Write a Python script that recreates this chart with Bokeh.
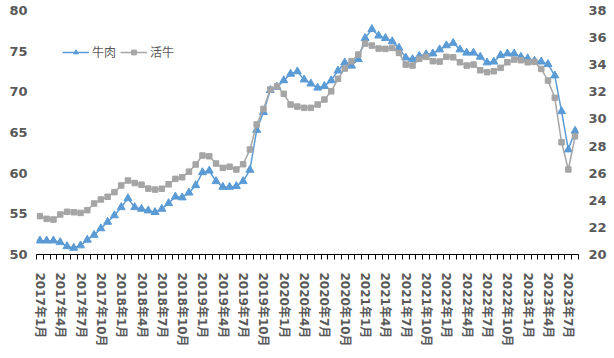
from bokeh.plotting import figure
from bokeh.models import Range1d, LinearAxis, FixedTicker, Legend, LegendItem, ColumnDataSource
from bokeh.embed import file_html
from bokeh.resources import INLINE

months = [f"{y}年{m}月" for y in range(2017, 2024) for m in range(1, 13)][:80]
tick_labels = months[::3]

beef = [51.7, 51.7, 51.7, 51.5, 51.0, 50.8, 51.1, 51.8, 52.4, 53.2,
        54.0, 54.8, 55.8, 56.9, 55.8, 55.6, 55.4, 55.2, 55.6, 56.3,
        57.1, 57.0, 57.6, 58.5, 60.1, 60.3, 59.0, 58.3, 58.3, 58.4,
        59.0, 60.4, 65.3, 67.5, 70.2, 70.6, 71.4, 72.2, 72.5, 71.5,
        71.0, 70.5, 70.7, 71.4, 72.6, 73.6, 73.2, 74.0, 76.6, 77.7,
        76.9, 76.6, 76.2, 75.4, 74.2, 74.0, 74.4, 74.6, 74.7, 75.2,
        75.7, 76.0, 75.2, 74.8, 74.8, 74.3, 73.6, 73.7, 74.5, 74.7,
        74.7, 74.3, 74.1, 73.8, 73.7, 73.4, 72.0, 67.6, 62.9, 65.2]

cattle = [22.83, 22.63, 22.58, 22.95, 23.15, 23.12, 23.07, 23.27, 23.76, 24.06,
          24.26, 24.60, 25.09, 25.46, 25.27, 25.15, 24.86, 24.79, 24.85, 25.18,
          25.58, 25.70, 26.11, 26.64, 27.30, 27.25, 26.71, 26.39, 26.47, 26.27,
          26.66, 27.74, 29.59, 30.74, 32.17, 32.41, 31.85, 31.06, 30.91, 30.82,
          30.82, 31.06, 31.43, 32.04, 32.96, 33.72, 34.26, 34.75, 35.56, 35.41,
          35.19, 35.17, 35.24, 34.87, 34.01, 33.94, 34.43, 34.58, 34.26, 34.23,
          34.58, 34.55, 34.18, 33.94, 34.01, 33.59, 33.45, 33.52, 33.77, 34.18,
          34.38, 34.33, 34.18, 34.21, 33.69, 32.83, 31.56, 28.28, 26.27, 28.72]

left_ticks = [50, 55, 60, 65, 70, 75, 80]
right_ticks = [20, 22, 24, 26, 28, 30, 32, 34, 36, 38]

BLUE = "#5B9BD5"
GRAY = "#A5A5A5"
TXT = "#595959"
FONT = "DejaVu Sans, Noto Sans CJK SC"

src = ColumnDataSource(dict(x=list(range(len(months))), beef=beef, cattle=cattle, month=months))

p = figure(frame_width=542, frame_height=244, output_backend="svg", toolbar_location=None,
           x_range=Range1d(-0.5, len(months) - 0.5), y_range=Range1d(50, 80),
           min_border_left=36, min_border_right=0, min_border_top=10, min_border_bottom=0)
p.extra_y_ranges = {"right": Range1d(20, 38)}
p.grid.visible = False
p.outline_line_color = None
p.background_fill_color = "white"
p.border_fill_color = "white"

l1 = p.line("x", "beef", source=src, line_color=BLUE, line_width=1.5)
s1 = p.scatter("x", "beef", source=src, marker="triangle", size=8, fill_color=BLUE, line_color=BLUE)
l2 = p.line("x", "cattle", source=src, line_color=GRAY, line_width=1.5, y_range_name="right")
s2 = p.scatter("x", "cattle", source=src, marker="square", size=5.5, fill_color=GRAY, line_color=GRAY, y_range_name="right")

# left axis
ya = p.yaxis[0]
ya.ticker = FixedTicker(ticks=left_ticks)
ya.axis_line_color = None
ya.major_tick_line_color = None
ya.minor_tick_line_color = None
ya.major_tick_out = 0
ya.major_tick_in = 0
ya.major_label_standoff = 9
ya.major_label_text_font = FONT
ya.major_label_text_font_style = "bold"
ya.major_label_text_font_size = "13px"
ya.major_label_text_color = TXT

# right axis
ra = LinearAxis(y_range_name="right", ticker=FixedTicker(ticks=right_ticks))
ra.axis_line_color = None
ra.major_tick_line_color = None
ra.minor_tick_line_color = None
ra.major_tick_out = 0
ra.major_tick_in = 0
ra.major_label_standoff = 10
ra.major_label_text_font = FONT
ra.major_label_text_font_style = "bold"
ra.major_label_text_font_size = "13px"
ra.major_label_text_color = TXT
p.add_layout(ra, "right")

# x axis
xa = p.xaxis[0]
xa.ticker = FixedTicker(ticks=list(range(0, len(months), 3)),
                        minor_ticks=[i - 0.5 for i in range(len(months) + 1)])
xa.major_label_overrides = {i * 3: lab for i, lab in enumerate(tick_labels)}
xa.major_label_orientation = "vertical"
xa.major_tick_out = 0
xa.major_tick_in = 0
xa.minor_tick_out = 5
xa.minor_tick_in = 0
xa.axis_line_color = "black"
xa.minor_tick_line_color = "black"
xa.major_label_standoff = 13
xa.major_label_text_font = FONT
xa.major_label_text_font_style = "bold"
xa.major_label_text_font_size = "12px"
xa.major_label_text_color = TXT

legend = Legend(items=[LegendItem(label="牛肉", renderers=[l1, s1]),
                       LegendItem(label="活牛", renderers=[l2, s2])],
                orientation="horizontal", location=(26, 194))
legend.label_text_font = "Noto Sans CJK SC"
legend.label_text_font_size = "12px"
legend.label_text_color = TXT
legend.glyph_width = 27
legend.glyph_height = 12
legend.label_height = 12
legend.label_standoff = 3
legend.spacing = 4
legend.padding = 0
legend.margin = 0
legend.background_fill_alpha = 0
legend.border_line_alpha = 0
p.add_layout(legend)

open("out.html", "w").write(file_html(p, INLINE))
